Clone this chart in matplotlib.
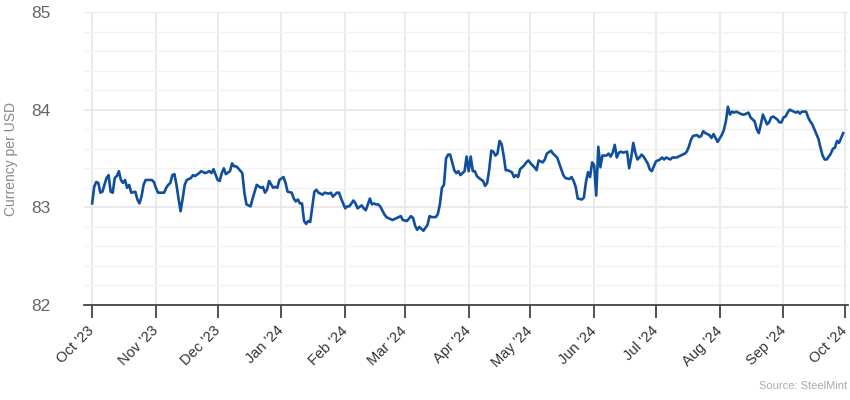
import pandas as pd
import matplotlib
matplotlib.use("Agg")
from matplotlib import pyplot as plt
import matplotlib.dates as mdates
from matplotlib.ticker import MultipleLocator

plt.rcParams['font.family'] = ['Liberation Sans', 'DejaVu Sans']

# days since 1 Oct 2023 and the rate
start_date = "2023-10-01"
day_offset = [
    0, 1, 2, 3, 4, 5, 7, 8, 9, 10, 11, 12, 13, 14, 15, 16, 17, 18, 19, 21,
    22, 23, 24, 25, 26, 28, 29, 30, 31, 32, 35, 36, 37, 38, 39, 40, 41, 42, 43, 44,
    45, 46, 48, 49, 50, 52, 53, 55, 57, 58, 59, 61, 62,
    63, 64, 65, 67, 68, 69, 70, 71, 73, 74, 75, 77, 78, 79, 80, 82, 83, 84, 85, 86,
    88, 89, 90, 91, 93, 94, 95, 97, 98, 99, 100, 101, 102, 103, 104, 105, 106, 108,
    109, 110, 112, 113, 115, 116, 117, 119, 120, 121, 123, 124,
    125, 127, 128, 129, 131, 132, 133, 135, 136, 137, 138, 139, 140, 142, 143, 145,
    146, 148, 150, 151, 153, 155, 156, 157, 158, 159, 161, 162, 163, 164, 165, 167,
    168, 169, 170, 171, 172, 173, 174, 176, 177, 178, 179, 180, 181, 182, 183, 184,
    185, 186, 187, 188,
    190, 191, 192, 193, 194, 195, 196, 197, 198, 199, 200, 201, 202, 204, 205, 206,
    207, 208, 210, 211, 212, 214, 215, 216, 217, 219, 220, 221, 223, 224, 226, 227,
    229, 230, 232, 233, 234, 235, 236, 238, 239, 240, 241, 242, 243, 244, 245, 246,
    247, 248, 250, 251,
    252, 253, 254, 255, 256, 257, 258, 260, 261, 262, 263, 264, 265, 266, 267, 268,
    270, 271, 272, 273, 274, 276, 277, 278, 279, 281, 282, 283, 284, 285, 287, 288,
    289, 290, 291, 292, 294, 295, 296, 297, 298, 300, 301, 302, 303, 304, 306, 307,
    308, 309, 310, 311,
    312, 313, 314, 316, 317, 319, 320, 321, 322, 323, 324, 325, 326, 327, 328, 329,
    330, 331, 333, 334, 335, 336, 337, 338, 339, 341, 342, 343, 344, 345, 346, 347,
    348, 349, 350, 351, 353, 354, 355, 356, 357, 359, 360, 361, 362, 363, 364, 365,
]
rate = [
    83.04, 83.21, 83.26, 83.25, 83.15, 83.16, 83.30, 83.33, 83.16, 83.15, 83.30, 83.32,
    83.37, 83.28, 83.25, 83.28, 83.20, 83.23, 83.15, 83.16, 83.08, 83.04, 83.11, 83.23,
    83.28, 83.28, 83.28, 83.26, 83.20, 83.15, 83.15, 83.20, 83.23, 83.25, 83.33, 83.34,
    83.23, 83.09, 82.96, 83.09, 83.23, 83.28, 83.30, 83.33, 83.32, 83.35, 83.37, 83.35,
    83.37, 83.35, 83.39, 83.28, 83.27,
    83.35, 83.40, 83.34, 83.37, 83.45, 83.42, 83.42, 83.40, 83.35, 83.15, 83.03, 83.01,
    83.09, 83.16, 83.23, 83.20, 83.21, 83.15, 83.18, 83.27, 83.20, 83.21, 83.20, 83.28,
    83.31, 83.25, 83.16, 83.15, 83.09, 83.06, 83.08, 83.04, 83.04, 82.86, 82.83, 82.86,
    82.85, 83.16, 83.18, 83.15, 83.13, 83.15, 83.14, 83.15, 83.11, 83.15, 83.15, 83.09,
    82.99, 83.01,
    83.01, 83.07, 83.04, 82.99, 83.02, 82.99, 82.97, 83.09, 83.03, 83.04, 83.03, 83.03,
    83.01, 82.93, 82.90, 82.88, 82.87, 82.89, 82.91, 82.87, 82.86, 82.91, 82.89, 82.81,
    82.77, 82.80, 82.76, 82.79, 82.82, 82.91, 82.90, 82.90, 82.93, 83.03, 83.20, 83.23,
    83.50, 83.54, 83.54, 83.38, 83.35, 83.37, 83.33, 83.35, 83.37, 83.52, 83.37, 83.52,
    83.37, 83.37, 83.32, 83.30,
    83.27, 83.22, 83.25, 83.39, 83.58, 83.57, 83.53, 83.55, 83.68, 83.65, 83.53, 83.38,
    83.38, 83.36, 83.31, 83.33, 83.31, 83.39, 83.43, 83.46, 83.48, 83.43, 83.41, 83.38,
    83.48, 83.46, 83.49, 83.55, 83.58, 83.55, 83.51, 83.45, 83.33, 83.30, 83.29, 83.31,
    83.27, 83.21, 83.09, 83.08, 83.10, 83.26, 83.36, 83.31, 83.46, 83.43, 83.12, 83.62,
    83.41, 83.53, 83.53, 83.55,
    83.52, 83.56, 83.64, 83.51, 83.56, 83.57, 83.56, 83.57, 83.40, 83.51, 83.66, 83.56,
    83.49, 83.51, 83.54, 83.52, 83.45, 83.39, 83.37, 83.42, 83.47, 83.49, 83.51, 83.49,
    83.51, 83.49, 83.51, 83.51, 83.51, 83.52, 83.54, 83.55, 83.57, 83.62, 83.69, 83.73,
    83.74, 83.72, 83.73, 83.78, 83.76, 83.74, 83.71, 83.75, 83.71, 83.67, 83.74, 83.79,
    83.88, 84.03, 83.95, 83.98,
    83.97, 83.98, 83.97, 83.95, 83.95, 83.97, 83.92, 83.90, 83.88, 83.80, 83.76, 83.85,
    83.95, 83.90, 83.85, 83.87, 83.92, 83.93, 83.90, 83.87, 83.87, 83.92, 83.93, 83.97,
    84.00, 83.98, 83.97, 83.98, 83.96, 83.98, 83.98, 83.98, 83.92, 83.88, 83.85, 83.80,
    83.70, 83.61, 83.53, 83.49, 83.49, 83.55, 83.60, 83.61, 83.68, 83.66, 83.71, 83.76,
]

y_label = "Currency per USD"
source_note = "Source: SteelMint"

dates = pd.Timestamp(start_date) + pd.to_timedelta(day_offset, unit="D")

fig = plt.figure(figsize=(8.5, 4), dpi=100)
ax = fig.add_axes([0.099, 0.2375, 0.899, 0.7325])

ax.plot(dates, rate, color="#0f4f9c", linewidth=1.9, solid_joinstyle="round", zorder=3)

ax.set_ylim(82, 85)
ax.set_xlim(pd.Timestamp("2023-09-27 03:00"), pd.Timestamp("2024-10-02 12:00"))

ax.yaxis.set_major_locator(MultipleLocator(1))
ax.yaxis.set_minor_locator(MultipleLocator(0.2))
ax.xaxis.set_major_locator(mdates.MonthLocator())
ax.xaxis.set_major_formatter(mdates.DateFormatter("%b '%y"))

ax.grid(True, which="major", axis="both", color="#e6e6e6", linewidth=1.2, zorder=0)
ax.grid(True, which="minor", axis="y", color="#f2f2f2", linewidth=1.0, zorder=0)

for side in ["top", "right", "left"]:
    ax.spines[side].set_visible(False)
ax.spines["bottom"].set_color("#444444")
ax.spines["bottom"].set_linewidth(1.3)

ax.tick_params(axis="y", which="both", length=0, pad=24, labelsize=12.5, labelcolor="#666666")
ax.tick_params(axis="x", length=9, width=1.3, color="#444444", pad=8,
               labelsize=10.5, labelcolor="#333333")
plt.setp(ax.get_xticklabels(), rotation=45, ha="right", va="center", rotation_mode="anchor")

ax.set_ylabel(y_label, fontsize=10, color="#888888", labelpad=10)

fig.text(0.997, 0.035, source_note, ha="right", va="center", fontsize=8, color="#aaaaaa")

fig.savefig("out.png", dpi=100)
